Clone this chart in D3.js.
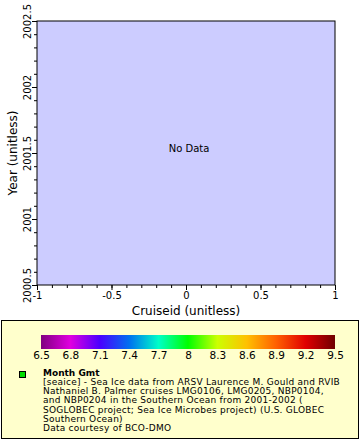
<!DOCTYPE html>
<html>
<head>
<meta charset="utf-8">
<script src="https://cdn.jsdelivr.net/npm/d3@7"></script>
<style>
  body { margin: 0; background: #fff; }
  svg { display: block; font-family: "DejaVu Sans", sans-serif; }
</style>
</head>
<body>
<div id="chart"></div>
<script>
// axis ranges (empty chart, "No Data")
var xDomain = [-1, 1]
var yDomain = [2000.5, 2002.5]
var xTicks = [-1, -0.5, 0, 0.5, 1]
var yTicks = [2000.5, 2001, 2001.5, 2002, 2002.5]
var colorTicks = [6.5, 6.8, 7.1, 7.4, 7.7, 8, 8.3, 8.6, 8.9, 9.2, 9.5]
var colorStops = ["#800080", "#e000e0", "#4a00ff", "#0070f0", "#00ffc8", "#00ff00",
  "#ccff00", "#ffc000", "#ff6000", "#e00000", "#700000"]
var legendLines = [
  "[seaice] - Sea Ice data from ARSV Laurence M. Gould and RVIB",
  "Nathaniel B. Palmer cruises LMG0106, LMG0205, NBP0104,",
  "and NBP0204 in the Southern Ocean from 2001-2002 (",
  "SOGLOBEC project; Sea Ice Microbes project) (U.S. GLOBEC",
  "Southern Ocean)",
  "Data courtesy of BCO-DMO"
]

var W = 360, H = 440
var plot = {left: 37, right: 335, top: 21, bottom: 285}

var svg = d3.select("#chart").append("svg")
  .attr("width", W)
  .attr("height", H)

var x = d3.scaleLinear().domain(xDomain).range([plot.left, plot.right])
var y = d3.scaleLinear().domain(yDomain).range([plot.bottom, plot.top])
var plain = function(d) { return String(d) }

svg.append("rect")
  .attr("x", plot.left)
  .attr("y", plot.top)
  .attr("width", plot.right - plot.left)
  .attr("height", plot.bottom - plot.top)
  .attr("fill", "#ccccff")
  .attr("stroke", "#000")

// minor ticks every 0.1
var xMinor = d3.range(-1, 1.0001, 0.1)
var yMinor = d3.range(2000.5, 2002.5001, 0.1)

svg.append("g")
  .attr("transform", "translate(0," + plot.bottom + ")")
  .call(d3.axisBottom(x).tickValues(xMinor).tickSize(3).tickFormat(""))
  .call(function(g) { g.select(".domain").remove() })

svg.append("g")
  .attr("transform", "translate(" + plot.left + ",0)")
  .call(d3.axisLeft(y).tickValues(yMinor).tickSize(3).tickFormat(""))
  .call(function(g) { g.select(".domain").remove() })

var xAxis = svg.append("g")
  .attr("transform", "translate(0," + plot.bottom + ")")
  .call(d3.axisBottom(x).tickValues(xTicks).tickSize(5).tickPadding(2).tickFormat(plain))
xAxis.select(".domain").remove()
xAxis.selectAll("text")
  .attr("font-family", "DejaVu Sans")
  .attr("font-size", 10)
  .attr("fill", "#000")

var yAxis = svg.append("g")
  .attr("transform", "translate(" + plot.left + ",0)")
  .call(d3.axisLeft(y).tickValues(yTicks).tickSize(5).tickFormat(plain))
yAxis.select(".domain").remove()
yAxis.selectAll("text")
  .attr("font-family", "DejaVu Sans")
  .attr("font-size", 10)
  .attr("fill", "#000")
  .attr("text-anchor", "middle")
  .attr("dy", null)
  .attr("x", null)
  .attr("transform", "translate(-6,0) rotate(-90)")

svg.selectAll(".tick line").attr("stroke", "#000")

svg.append("text")
  .attr("x", (plot.left + plot.right) / 2)
  .attr("y", 315)
  .attr("text-anchor", "middle")
  .attr("font-size", 12)
  .text("Cruiseid (unitless)")

svg.append("text")
  .attr("transform", "translate(17," + (plot.top + plot.bottom) / 2 + ") rotate(-90)")
  .attr("text-anchor", "middle")
  .attr("font-size", 12)
  .text("Year (unitless)")

svg.append("text")
  .attr("x", (plot.left + plot.right) / 2 + 3)
  .attr("y", 152)
  .attr("text-anchor", "middle")
  .attr("font-size", 10)
  .text("No Data")

// legend
svg.append("rect")
  .attr("x", 1.5)
  .attr("y", 320.5)
  .attr("width", 357)
  .attr("height", 118)
  .attr("fill", "#ffffcc")
  .attr("stroke", "#000")

var c = d3.scaleLinear().domain([6.5, 9.5]).range([41, 335])

var grad = svg.append("defs").append("linearGradient")
  .attr("id", "cbar")
grad.selectAll("stop")
  .data(colorTicks)
  .enter()
  .append("stop")
  .attr("offset", function(d) { return (c(d) - 41) / 294 })
  .attr("stop-color", function(d, i) { return colorStops[i] })

svg.append("rect")
  .attr("x", c.range()[0])
  .attr("y", 335)
  .attr("width", c.range()[1] - c.range()[0])
  .attr("height", 14)
  .attr("fill", "url(#cbar)")

var cAxis = svg.append("g")
  .attr("transform", "translate(0,349)")
  .call(d3.axisBottom(c).tickValues(colorTicks).tickSize(0).tickPadding(3).tickFormat(plain))
cAxis.select(".domain").remove()
cAxis.selectAll("text")
  .attr("font-family", "DejaVu Sans")
  .attr("font-size", 10.5)
  .attr("fill", "#000")

svg.append("rect")
  .attr("x", 19.5)
  .attr("y", 371.5)
  .attr("width", 6)
  .attr("height", 6)
  .attr("fill", "#00dd00")
  .attr("stroke", "#000")

svg.append("text")
  .attr("x", 43)
  .attr("y", 375.5)
  .attr("font-size", 9)
  .attr("font-weight", "bold")
  .text("Month Gmt")

svg.selectAll(".lg")
  .data(legendLines)
  .enter()
  .append("text")
  .attr("class", "lg")
  .attr("x", 43)
  .attr("y", function(d, i) { return 385 + i * 9.2 })
  .attr("font-size", 9)
  .attr("letter-spacing", 0.25)
  .text(function(d) { return d })
</script>
</body>
</html>
